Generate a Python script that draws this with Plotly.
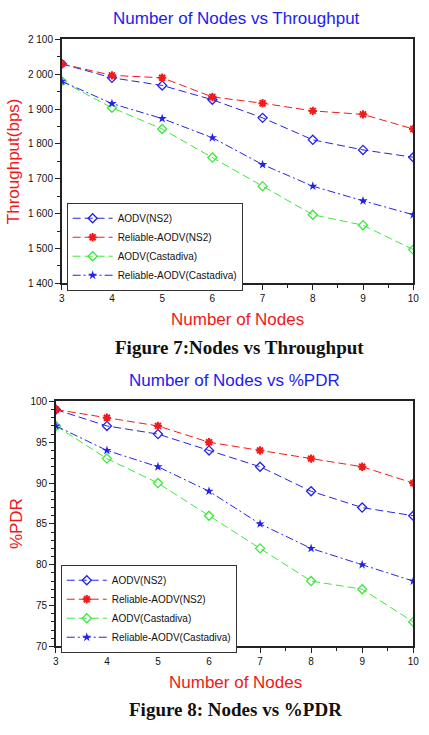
import plotly.graph_objects as go

W, H = 429, 735

nodes = [3, 4, 5, 6, 7, 8, 9, 10]

# Figure 7: throughput (bps)
thr_aodv_ns2 = [2030, 1990, 1968, 1927, 1875, 1812, 1783, 1762]
thr_rel_ns2 = [2030, 1997, 1990, 1935, 1917, 1895, 1885, 1843]
thr_aodv_cast = [1980, 1904, 1843, 1761, 1679, 1597, 1567, 1497]
thr_rel_cast = [1980, 1916, 1873, 1818, 1741, 1679, 1637, 1597]
thr_ticks = [1400, 1500, 1600, 1700, 1800, 1900, 2000, 2100]
thr_ticktext = ["1 400", "1 500", "1 600", "1 700", "1 800", "1 900", "2 000", "2 100"]

# Figure 8: %PDR
pdr_aodv_ns2 = [99, 97, 96, 94, 92, 89, 87, 86]
pdr_rel_ns2 = [99, 98, 97, 95, 94, 93, 92, 90]
pdr_aodv_cast = [97, 93, 90, 86, 82, 78, 77, 73]
pdr_rel_cast = [97, 94, 92, 89, 85, 82, 80, 78]
pdr_ticks = [70, 75, 80, 85, 90, 95, 100]

series_names = ["AODV(NS2)", "Reliable-AODV(NS2)", "AODV(Castadiva)", "Reliable-AODV(Castadiva)"]

BLUE = "#2424e6"
RED = "#f01c1c"
GREEN = "#3ee83e"
TITLE_BLUE = "#1c1cf0"
AX_RED = "#f01818"

styles = [
    dict(line=dict(color=BLUE, width=1, dash="8px,4px"),
         marker=dict(symbol="diamond-open", size=7, color=BLUE, line=dict(width=1.3, color=BLUE))),
    dict(line=dict(color=RED, width=1, dash="8px,4px"),
         marker=dict(symbol="asterisk-open", size=7, color=RED, line=dict(width=2, color=RED))),
    dict(line=dict(color=GREEN, width=1, dash="8px,4px"),
         marker=dict(symbol="diamond-open", size=7, color=GREEN, line=dict(width=1.3, color=GREEN))),
    dict(line=dict(color=BLUE, width=1, dash="8px,3px,2px,3px"),
         marker=dict(symbol="star", size=7, color=BLUE, line=dict(width=0))),
]

fig = go.Figure()

for name, ys, st in zip(series_names, [thr_aodv_ns2, thr_rel_ns2, thr_aodv_cast, thr_rel_cast], styles):
    fig.add_trace(go.Scatter(x=nodes, y=ys, name=name, mode="lines+markers",
                             xaxis="x", yaxis="y", legend="legend", **st))

for name, ys, st in zip(series_names, [pdr_aodv_ns2, pdr_rel_ns2, pdr_aodv_cast, pdr_rel_cast], styles):
    fig.add_trace(go.Scatter(x=nodes, y=ys, name=name, mode="lines+markers",
                             xaxis="x2", yaxis="y2", legend="legend2", **st))


def px(x):
    return x / W


def py(y):
    return 1 - y / H


tickfont = dict(family="Liberation Sans, Arial", size=10, color="#111111")
axis_common = dict(showline=True, linecolor="#222222", linewidth=1.5, mirror=True,
                   ticks="outside", ticklen=5, tickwidth=1, tickcolor="#222222",
                   showgrid=False, zeroline=False, tickfont=tickfont)

legend_common = dict(xanchor="left", yanchor="top",
                     bgcolor="white", bordercolor="#333333", borderwidth=1,
                     font=dict(family="Liberation Sans, Arial", size=10, color="#111111"),
                     itemwidth=40, tracegroupgap=0)

fig.update_layout(
    width=W, height=H,
    margin=dict(l=0, r=0, t=0, b=0),
    paper_bgcolor="white", plot_bgcolor="white",
    showlegend=True,
    xaxis=dict(domain=[px(60), px(419)], range=[3, 10], anchor="y", tickvals=nodes,
               minor=dict(dtick=0.5, ticks="outside", ticklen=3, tickcolor="#222222"), **axis_common),
    yaxis=dict(domain=[py(282), py(34)], range=[1400, 2100], anchor="x",
               tickvals=thr_ticks, ticktext=thr_ticktext,
               minor=dict(dtick=50, ticks="outside", ticklen=3, tickcolor="#222222"), **axis_common),
    xaxis2=dict(domain=[px(54), px(419)], range=[3, 10], anchor="y2", tickvals=nodes,
                minor=dict(dtick=0.5, ticks="outside", ticklen=3, tickcolor="#222222"), **axis_common),
    yaxis2=dict(domain=[py(651), py(402)], range=[70, 100], anchor="x2", tickvals=pdr_ticks,
                minor=dict(dtick=1, ticks="outside", ticklen=3, tickcolor="#222222"), **axis_common),
    legend=dict(x=px(65), y=py(200), **legend_common),
    legend2=dict(x=px(59), y=py(568), **legend_common),
)


def label(text, x, y, size, color, family="Liberation Sans, Arial", angle=0):
    return dict(text=text, x=px(x), y=py(y), xref="paper", yref="paper",
                xanchor="center", yanchor="middle", textangle=angle, showarrow=False,
                font=dict(family=family, size=size, color=color))


ann = [
    label("Number of Nodes vs Throughput", 238, 13, 17, TITLE_BLUE),
    label("Number of Nodes vs %PDR", 236, 381, 17, TITLE_BLUE),
    label("Number of Nodes", 240, 319, 17, AX_RED),
    label("Number of Nodes", 237, 688, 17, AX_RED),
    label("Throughput(bps)", 11, 158, 17, AX_RED, angle=-90),
    label("%PDR", 14, 526, 17, AX_RED, angle=-90),
    label("<b>Figure 7:Nodes vs Throughput</b>", 242, 347, 19, "#111111",
          family="Liberation Serif, Times New Roman"),
    label("<b>Figure 8: Nodes vs %PDR</b>", 237, 715, 19, "#111111",
          family="Liberation Serif, Times New Roman"),
]
fig.update_layout(annotations=ann)

fig.write_html("out.html")
